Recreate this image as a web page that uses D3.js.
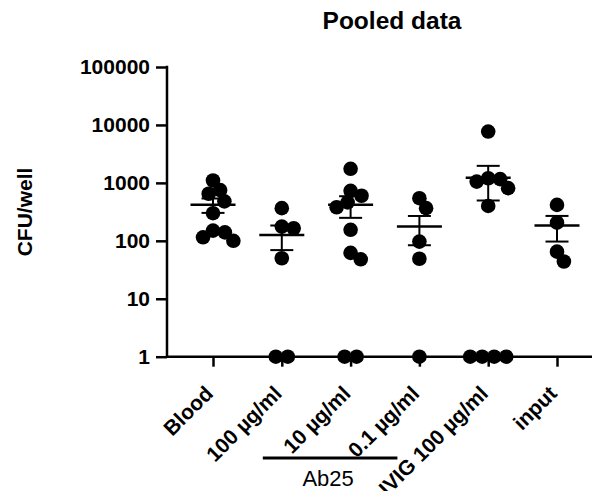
<!DOCTYPE html>
<html>
<head>
<meta charset="utf-8">
<script src="https://cdn.jsdelivr.net/npm/d3@7"></script>
<style>
  html, body { margin: 0; padding: 0; background: #fff; }
  svg { display: block; }
  text { font-family: "Liberation Sans", Arial, sans-serif; fill: #000; }
</style>
</head>
<body>
<svg id="chart" width="596" height="491"></svg>
<script>
// ---- Data ----
const categories = ["Blood", "100 µg/ml", "10 µg/ml", "0.1 µg/ml", "IVIG 100 µg/ml", "input"];
const bloodValues   = [1100, 750, 650, 480, 300, 115, 140, 150, 100];
const ab25_100      = [366, 176, 165, 50, 1, 1];
const ab25_10       = [1750, 600, 730, 460, 380, 155, 62, 48, 1, 1];
const ab25_01       = [544, 366, 97, 49, 1, 0];   // zero is counted in stats, not plottable on log axis
const ivig100       = [7690, 1159, 1052, 1203, 811, 400, 1, 1, 1, 1];
const inputValues   = [417, 206, 65, 44];
const seriesValues  = [bloodValues, ab25_100, ab25_10, ab25_01, ivig100, inputValues];
const yTickValues   = [1, 10, 100, 1000, 10000, 100000];
const yTickLabels   = ["1", "10", "100", "1000", "10000", "100000"];
const chartTitle    = "Pooled data";
const yAxisTitle    = "CFU/well";
const groupLabel    = "Ab25";
const groupFrom     = 1, groupTo = 3;

// ---- Layout ----
const svg = d3.select("#chart");
const axisX = 167, axisY = 356.7, topY = 67, rightEnd = 592;
const r = 7.3, minDist = 12;

const y = d3.scaleLog().domain([1, 100000]).range([axisY, topY]);
const x = d3.scalePoint().domain(categories).range([213, 557]);

// Title
svg.append("text")
  .attr("x", 392).attr("y", 29)
  .attr("text-anchor", "middle")
  .style("font-size", "24.5px").style("font-weight", "bold")
  .text(chartTitle);

// Y axis title
svg.append("text")
  .attr("transform", `translate(32, 212) rotate(-90)`)
  .attr("text-anchor", "middle")
  .style("font-size", "21px").style("font-weight", "bold")
  .text(yAxisTitle);

// Y axis
const yAxis = d3.axisLeft(y)
  .tickValues(yTickValues)
  .tickFormat((d, i) => yTickLabels[i])
  .tickSize(11).tickPadding(6);
const gy = svg.append("g").attr("transform", `translate(${axisX},0)`).call(yAxis);
gy.select(".domain").remove();
gy.selectAll(".tick line").attr("stroke", "#000").attr("stroke-width", 2.5);
gy.selectAll(".tick text")
  .style("font-size", "21px").style("font-weight", "bold")
  .attr("font-family", null);
svg.append("line")
  .attr("x1", axisX).attr("x2", axisX)
  .attr("y1", topY - 1.2).attr("y2", axisY + 1.2)
  .attr("stroke", "#000").attr("stroke-width", 2.5);

// X axis
const xAxis = d3.axisBottom(x).tickSize(10).tickFormat("");
const gx = svg.append("g").attr("transform", `translate(0,${axisY})`).call(xAxis);
gx.select(".domain").remove();
gx.selectAll(".tick line").attr("stroke", "#000").attr("stroke-width", 2.5);
svg.append("line")
  .attr("x1", axisX - 1.2).attr("x2", rightEnd)
  .attr("y1", axisY).attr("y2", axisY)
  .attr("stroke", "#000").attr("stroke-width", 2.5);

// X labels, rotated
svg.selectAll(".xlab").data(categories).enter().append("text")
  .attr("class", "xlab")
  .attr("transform", d => `translate(${x(d) - 4},${axisY + 33}) rotate(-45)`)
  .attr("text-anchor", "end")
  .attr("dy", "0.35em")
  .style("font-size", "21px").style("font-weight", "bold")
  .text(d => d);

// Group bracket
const gx1 = x(categories[groupFrom]) - 19, gx2 = x(categories[groupTo]) - 22;
svg.append("line")
  .attr("x1", gx1).attr("x2", gx2)
  .attr("y1", 458).attr("y2", 458)
  .attr("stroke", "#000").attr("stroke-width", 3);
svg.append("text")
  .attr("x", (gx1 + gx2) / 2 - 2).attr("y", 486)
  .attr("text-anchor", "middle")
  .style("font-size", "22px")
  .text(groupLabel);

// Beeswarm placement
function swarm(values) {
  const pts = values.map((v, i) => ({ v, i })).filter(p => p.v > 0)
    .sort((a, b) => b.v - a.v);
  const placed = [];
  pts.forEach(p => {
    p.py = y(p.v);
    const forb = [];
    placed.forEach(q => {
      const dy = Math.abs(q.py - p.py);
      if (dy < minDist) {
        const w = Math.sqrt(minDist * minDist - dy * dy);
        forb.push([q.dx - w, q.dx + w]);
      }
    });
    const cands = [0];
    forb.forEach(f => { cands.push(f[0], f[1]); });
    const ok = c => forb.every(f => c <= f[0] + 1e-6 || c >= f[1] - 1e-6);
    const valid = cands.filter(ok).sort((a, b) => Math.abs(a) - Math.abs(b) || b - a);
    p.dx = valid[0];
    placed.push(p);
  });
  // center rows of identical values
  const rows = d3.group(placed, p => p.v);
  rows.forEach(row => {
    if (row.length > 1) {
      const m = d3.mean(row, p => p.dx);
      row.forEach(p => p.dx -= m);
    }
  });
  return placed;
}

const plot = svg.append("g");
seriesValues.forEach((vals, gi) => {
  const cx = x(categories[gi]);
  const pts = swarm(vals);
  plot.selectAll(null).data(pts).enter().append("circle")
    .attr("cx", d => cx + d.dx)
    .attr("cy", d => d.py)
    .attr("r", r)
    .attr("fill", "#000");

  const mean = d3.mean(vals);
  const sem = d3.deviation(vals) / Math.sqrt(vals.length);
  const g = plot.append("g").attr("stroke", "#000");
  g.append("line").attr("x1", cx - 22.5).attr("x2", cx + 22.5)
    .attr("y1", y(mean)).attr("y2", y(mean)).attr("stroke-width", 2.5);
  g.append("line").attr("x1", cx).attr("x2", cx)
    .attr("y1", y(mean + sem)).attr("y2", y(Math.max(mean - sem, 1))).attr("stroke-width", 2);
  [mean + sem, mean - sem].forEach(v => {
    g.append("line").attr("x1", cx - 11.5).attr("x2", cx + 11.5)
      .attr("y1", y(v)).attr("y2", y(v)).attr("stroke-width", 2);
  });
});
</script>
</body>
</html>
